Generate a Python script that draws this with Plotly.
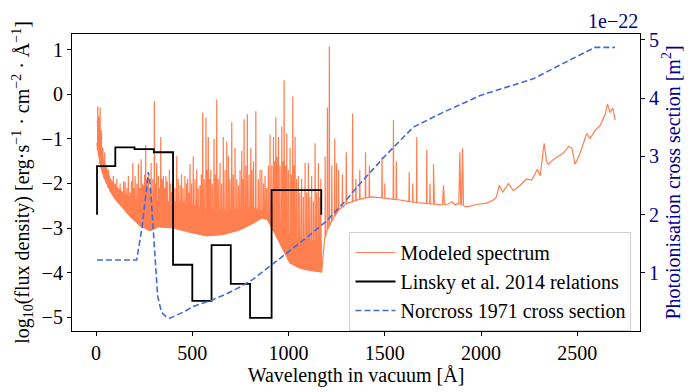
import numpy as np
import plotly.graph_objects as go

# ---------------- data ----------------
# Dense line-forest band of the modeled spectrum (upper / lower envelopes), log10 flux
band_wl = [5, 10, 20, 40, 60, 75, 100, 140, 180, 230, 280, 320, 400, 490, 575, 660, 750,
           820, 861, 890, 913, 940, 973, 1008, 1050, 1094, 1140, 1172]
band_lo = [-1.1, -1.3, -1.55, -1.85, -2.05, -2.18, -2.35, -2.55, -2.75, -2.95, -3.06, -2.97,
           -2.99, -3.09, -3.17, -3.14, -3.03, -2.88, -2.77, -2.8, -2.99, -3.2, -3.49, -3.78,
           -3.88, -3.93, -3.96, -3.98]
band_hi = [-0.6, -0.8, -1.1, -1.5, -1.75, -1.9, -2.05, -2.2, -2.3, -2.38, -2.4, -2.38, -2.41,
           -2.45, -2.62, -2.62, -2.55, -2.55, -2.62, -2.6, -2.5, -2.7, -3.0, -3.15, -3.2,
           -3.25, -3.3, -3.3]

# Continuum (lower envelope) of the modeled spectrum beyond the forest
cont_wl = [1172, 1180, 1190, 1200, 1230, 1260, 1302, 1371, 1432, 1500, 1579, 1650, 1700,
           1753, 1787, 1830, 1850, 1866, 1880, 1919, 1934, 1977, 2029, 2064, 2080, 2095,
           2113, 2142, 2168, 2203, 2237, 2263, 2293, 2307, 2328, 2340, 2350, 2376, 2402,
           2428, 2454, 2472, 2489, 2515, 2549, 2567, 2593, 2619, 2645, 2657, 2671, 2685, 2697]
cont_lo = [-3.98, -3.5, -3.2, -3.05, -2.8, -2.6, -2.45, -2.35, -2.30, -2.33, -2.37, -2.42,
           -2.44, -2.46, -2.48, -2.46, -2.41, -2.48, -2.45, -2.52, -2.52, -2.47, -2.44,
           -2.37, -2.3, -2.04, -2.19, -2.0, -2.16, -2.04, -1.90, -1.93, -1.68, -1.83, -1.10,
           -1.5, -1.57, -1.46, -1.39, -1.32, -1.17, -1.21, -1.57, -1.32, -0.88, -0.99, -0.81,
           -0.70, -0.45, -0.22, -0.41, -0.31, -0.58]

# Emission lines: wavelength [Å] and peak log10 flux
line_wl = [9, 14, 21, 28, 35, 45, 55, 65, 75, 90, 100, 108, 116, 125, 134, 143, 151, 160,
           168, 177, 184, 191, 197, 203, 212, 220, 227, 234, 240, 246, 252, 258, 265, 272,
           279, 286, 295, 303, 309, 315, 324, 330, 336, 343, 350, 357, 363, 370, 381, 387,
           393, 400, 410, 419, 427, 436, 444, 452, 462, 470, 476, 482, 488, 496, 505, 514,
           523, 531, 540, 547, 554, 562, 571, 577, 583, 590, 596, 604, 613, 620, 627, 635,
           644, 652, 661, 670, 679, 688, 696, 705, 713, 722, 731, 740, 748, 757, 763, 769,
           778, 786, 795, 804, 810, 818, 830, 843, 852, 861, 870, 878, 886, 895, 904, 913,
           922, 928, 934, 941, 948, 956, 965, 971, 977, 984, 991, 999, 1008, 1015, 1022,
           1028, 1034, 1042, 1051, 1059, 1068, 1077, 1086, 1094, 1103, 1111, 1120, 1129,
           1138, 1146, 1155, 1163, 1168, 1190, 1202, 1212, 1225, 1240, 1250, 1260, 1280,
           1300, 1333, 1350, 1370, 1400, 1420, 1486, 1500, 1545, 1560, 1627, 1645, 1666,
           1718, 1735, 1753, 1805, 1890, 1904]
line_pk = [-0.27, -0.5, -0.3, -0.8, -1.2, -1.3, -1.6, -1.7, -1.9, -1.83, -2.0, -1.9, -2.19,
           -2.0, -2.2, -1.95, -1.96, -2.1, -1.83, -2.2, -1.95, -1.54, -2.1, -1.83, -2.0,
           -1.56, -2.1, -1.46, -2.0, -2.04, -1.8, -1.14, -1.9, -1.83, -2.1, -1.54, -1.9,
           -0.16, -2.0, -1.54, -1.83, -2.1, -0.96, -1.9, -1.83, -2.1, -1.83, -1.95, -1.69,
           -2.0, -2.19, -1.9, -2.1, -1.39, -1.9, -2.04, -1.8, -2.1, -1.83, -2.0, -1.9, -2.2,
           -1.56, -2.0, -1.39, -1.9, -1.69, -2.1, -2.04, -1.8, -0.41, -1.9, -0.52, -1.7,
           -0.96, -1.9, -1.69, -2.0, -1.0, -1.8, -0.12, -1.9, -1.54, -2.0, -0.96, -1.7,
           -1.06, -1.39, -1.9, -0.63, -1.8, -1.2, -1.9, -2.04, -1.7, -1.27, -1.9, -0.56,
           -1.6, -0.45, -1.8, -1.2, -1.7, -1.5, -0.38, -1.9, -1.7, -1.69, -2.0, -1.83, -2.1,
           -1.6, -0.91, -1.6, -0.96, -1.5, -0.52, -1.4, -0.96, -1.6, -0.73, -1.5, 0.31,
           -1.6, -0.88, -1.7, -1.2, -1.8, -0.05, -1.6, -0.96, -1.9, -1.83, -2.2, -1.9,
           -2.3, -1.54, -2.2, -1.54, -2.3, -1.83, -2.4, -1.1, -2.2, -1.54, -2.3, -1.9,
           -1.4, -0.30, 1.07, -1.6, -1.0, -1.54, -1.7, -1.8, -1.3, -0.43, -1.9, -1.7, -1.3,
           -1.6, -1.4, -2.0, -0.58, -1.5, -1.75, -2.0, -0.96, -1.25, -2.0, -1.57, -2.04,
           -1.3, -1.21]

# Linsky et al. 2014 bins (edges in Å, log10 flux per bin)
linsky_edges = [5, 100, 200, 300, 400, 500, 600, 700, 800, 912, 1170]
linsky_vals = [-1.61, -1.19, -1.23, -1.30, -3.82, -4.63, -3.38, -4.25, -5.01, -2.15]
linsky_base = -2.70

# Norcross 1971 cross section (units of 1e-22 m^2)
norc_wl = [5, 211, 240, 262, 272, 282, 300, 320, 340, 365, 384, 450, 505, 600, 679, 750,
           817, 900, 990, 1100, 1198, 1300, 1371, 1500, 1648, 1800, 2000, 2271, 2400, 2592,
           2696]
norc_cs = [1.22, 1.22, 1.8, 2.5, 2.73, 2.5, 1.6, 0.6, 0.32, 0.24, 0.22, 0.32, 0.42, 0.53,
           0.64, 0.76, 0.89, 1.1, 1.33, 1.62, 1.89, 2.25, 2.53, 3.0, 3.5, 3.75, 4.05, 4.33,
           4.55, 4.87, 4.87]

# ---------------- build spectrum trace ----------------
all_cwl = np.array(band_wl + cont_wl[1:], dtype=float)
all_clo = np.array(band_lo + cont_lo[1:], dtype=float)
pts = list(zip(all_cwl, all_clo))
for w, p in zip(line_wl, line_pk):
    hw = 1.5 if w < 1750 else 5.0
    b = float(np.interp(w, all_cwl, all_clo))
    pts += [(w - hw, b), (w, p), (w + hw, b)]
pts.sort(key=lambda t: t[0])
spec_x = [p[0] for p in pts]
spec_y = [p[1] for p in pts]

# Linsky steps
step_x, step_y = [linsky_edges[0]], [linsky_base]
for i, v in enumerate(linsky_vals):
    step_x += [linsky_edges[i], linsky_edges[i + 1]]
    step_y += [v, v]
step_x.append(linsky_edges[-1]); step_y.append(linsky_base)

SPEC = "#FF7F50"
FONT = "Liberation Serif, Times New Roman, serif"
NAVY = "#00008B"
FS = 20

fig = go.Figure()
fig.add_trace(go.Scatter(
    x=band_wl + band_wl[::-1], y=band_hi + band_lo[::-1], fill="toself",
    fillcolor=SPEC, line=dict(color=SPEC, width=0.8), mode="lines",
    showlegend=False, hoverinfo="skip"))
fig.add_trace(go.Scatter(x=spec_x, y=spec_y, mode="lines", name="Modeled spectrum",
                         line=dict(color=SPEC, width=1.2), legendgroup="a"))
fig.add_trace(go.Scatter(x=step_x, y=step_y, mode="lines", name="Linsky et al. 2014 relations",
                         line=dict(color="black", width=1.8), legendgroup="b"))
fig.add_trace(go.Scatter(x=norc_wl, y=norc_cs, mode="lines", name="Norcross 1971 cross section",
                         line=dict(color="#4169E1", width=1.6, dash="6px,3px"),
                         yaxis="y2", legendgroup="c"))

fig.update_layout(
    width=691, height=392,
    margin=dict(l=72, r=51, t=34, b=52),
    paper_bgcolor="white", plot_bgcolor="white",
    font=dict(family=FONT, size=FS, color="black"),
    showlegend=True,
    legend=dict(x=0.985, xanchor="right", y=0.0, yanchor="bottom",
                bgcolor="rgba(255,255,255,0.85)", bordercolor="#d0d0d0", borderwidth=1,
                font=dict(family=FONT, size=FS), tracegroupgap=0, itemwidth=40),
    xaxis=dict(range=[-125, 2826], showgrid=False, zeroline=False,
               showline=True, linecolor="black", linewidth=1.2, mirror=True,
               ticks="outside", ticklen=4, tickcolor="black",
               tickvals=[0, 500, 1000, 1500, 2000, 2500],
               tickfont=dict(family=FONT, size=FS),
               title=dict(text="Wavelength in vacuum [Å]", standoff=2,
                          font=dict(family=FONT, size=FS))),
    yaxis=dict(range=[-5.304, 1.348], showgrid=False, zeroline=False,
               showline=True, linecolor="black", linewidth=1.2,
               ticks="outside", ticklen=4, tickcolor="black",
               tickvals=[-5, -4, -3, -2, -1, 0, 1],
               ticktext=["−5", "−4", "−3", "−2", "−1", "0", "1"],
               tickfont=dict(family=FONT, size=FS),
               title=dict(text="log<sub>10</sub>(flux density) [erg·s<sup>−1</sup> · cm<sup>−2</sup> · Å<sup>−1</sup>]",
                          standoff=6, font=dict(family=FONT, size=FS))),
    yaxis2=dict(range=[0, 5.1], overlaying="y", side="right", showgrid=False,
                zeroline=False, showline=True, linecolor="black", linewidth=1.2,
                ticks="outside", ticklen=4, tickcolor=NAVY,
                tickvals=[1, 2, 3, 4, 5], tickfont=dict(color=NAVY, family=FONT, size=FS),
                title=dict(text="Photoionisation cross section [m<sup>2</sup>]", standoff=6,
                           font=dict(color=NAVY, family=FONT, size=FS))),
    annotations=[dict(text="1e−22", xref="paper", yref="paper", x=1.0, y=1.0,
                      xanchor="right", yanchor="bottom", showarrow=False,
                      font=dict(color=NAVY, family=FONT, size=FS))],
)

fig.write_html("out.html")
